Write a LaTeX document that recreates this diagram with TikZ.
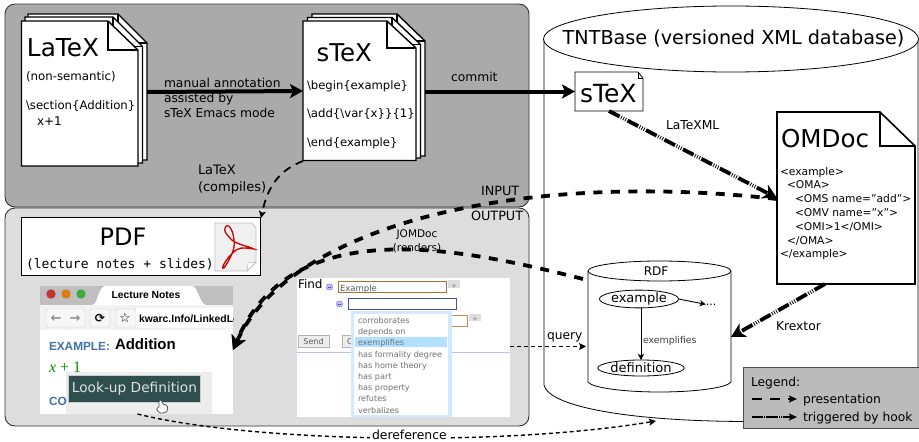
\documentclass[tikz,border=0pt]{standalone}
\usepackage{fontspec}
\setmainfont{DejaVu Sans}
\setmonofont{DejaVu Sans Mono}
\newfontfamily\shotfont{Liberation Sans}
\usetikzlibrary{arrows.meta,fit,shapes.geometric}
\newcommand{\fs}[1]{\fontsize{#1}{#1}\selectfont}
\newcommand{\docshape}[7]{% x0 y0 x1 y1 fx fy style
  \draw[#7,line join=miter] (#1,#2) -- (#5,#2) -- (#3,#6) -- (#3,#4) -- (#1,#4) -- cycle;
  \draw[#7,fill=none] (#5,#2) -- (#5,#6) -- (#3,#6);}
\newcommand{\minusicon}[2]{%
  \draw[draw=blue!35!gray!70,fill=blue!25!white,line width=.5pt,rounded corners=2pt] (#1-3,#2-2.8) rectangle (#1+3,#2+2.8);
  \draw[color=blue!40!gray,line width=.8pt] (#1-1.8,#2) -- (#1+1.8,#2);}
\definecolor{panelA}{HTML}{AAAAAA}
\definecolor{panelB}{HTML}{DDDDDD}
\definecolor{legendbg}{HTML}{BBBBBB}
\definecolor{linkblue}{HTML}{3F73A8}
\definecolor{teal}{HTML}{2F4F4F}
\definecolor{itemgrey}{HTML}{707070}
\tikzset{
  x=1pt,y=-1pt,
  lbl/.style={inner sep=0,outer sep=0,anchor=mid west,yshift=-1.3pt,text=#1},
  lbl/.default=black,
  clbl/.style={inner sep=0,outer sep=0,anchor=mid,yshift=-1.3pt,text=black},
  ttl/.style={inner sep=0,outer sep=0,anchor=base west,text=black},
  box/.style={inner sep=0,outer sep=0},
  panel/.style={draw=black!80,line width=.9pt,rounded corners=10pt},
  page/.style={draw=black,fill=white,line width=1.4pt},
  solidarrow/.style={line width=4pt,-{Stealth[length=13pt,width=14pt,inset=3pt]}},
  bigdash/.style={line width=3.8pt,dash pattern=on 9pt off 8.5pt,-{Stealth[length=14pt,width=15pt,inset=4pt]}},
  hookarrow/.style={line width=3.8pt,dash pattern=on 12pt off 1.6pt on .8pt off 1.6pt on .8pt off 1.6pt on .8pt off 1.6pt,-{Stealth[length=14pt,width=15pt,inset=4pt]}},
  smalldash/.style={line width=1.4pt,dash pattern=on 4pt off 3pt,-{Stealth[length=7pt,width=7pt,inset=1.5pt]}},
  thinarrow/.style={line width=.9pt,-{Stealth[length=6pt,width=6pt,inset=1.5pt]}},
  oval/.style={ellipse,draw=black,fill=white,line width=.8pt,inner sep=0,outer sep=0,minimum width=75pt,minimum height=16pt},
}
\begin{document}
\begin{tikzpicture}
\fill[white] (0,0) rectangle (919,442);
\useasboundingbox (0,0) rectangle (919,442);
% panels
\draw[panel,fill=panelA] (5,4) rectangle (529,207);
\draw[panel,fill=panelB] (5,208) rectangle (529,426);
% TNTBase cylinder
\draw[line width=.8pt,fill=white] (544,39) -- (544,385) .. controls (548,405) and (620,421) .. (745,421.5) -- (918,421.5) -- (918,39);
\draw[line width=.8pt,fill=white] (731,39) ellipse [x radius=187.5,y radius=33];
\node[ttl,anchor=base] (tnt) at (733.5,44) {\fs{19.2}TNTBase (versioned XML database)};
% LaTeX stack
\docshape{28}{14}{147}{160}{118}{43}{page}
\docshape{25}{17}{142.5}{163}{113}{46.5}{page}
\docshape{21.5}{21}{138}{166}{108}{50}{page}
\node[box,fit={(21.5,14)(147,166)}] (latexdoc) {};
\node[ttl] (latextitle) at (27,56.5) {\fs{24.7}LaTeX};
\node[lbl] (latexa) at (26,76) {\fs{11.8}(non-semantic)};
\node[lbl] (latexb) at (26,105) {\fs{11.7}\textbackslash section\{Addition\}};
\node[lbl] (latexc) at (37,121) {\fs{12}x+1};
% sTeX stack
\docshape{312}{14}{425}{156}{397}{41}{page}
\docshape{307.5}{17.5}{420.5}{158}{392}{44.5}{page}
\docshape{303}{21}{416}{160.5}{387}{48}{page}
\node[box,fit={(303,14)(425,161)}] (stexdoc) {};
\node[ttl] (stextitle) at (316.5,61) {\fs{24.5}sTeX};
\node[lbl] (stexa) at (307,85) {\fs{11.6}\textbackslash begin\{example\}};
\node[lbl] (stexb) at (307,113.5) {\fs{11.7}\textbackslash add\{\textbackslash var\{x\}\}\{1\}};
\node[lbl] (stexc) at (307,142) {\fs{11.6}\textbackslash end\{example\}};
% annotation
\node[lbl] (ann1) at (164,83) {\fs{12.3}manual annotation};
\node[lbl] (ann2) at (164,98) {\fs{12.3}assisted by};
\node[lbl] (ann3) at (164,113) {\fs{12.3}sTeX Emacs mode};
\node[lbl] (commit) at (451,77) {\fs{12.3}commit};
\node[lbl] (comp1) at (198,170) {\fs{13}LaTeX};
\node[lbl] (comp2) at (198,187) {\fs{13}(compiles)};
\node[lbl] (inputlbl) at (481,191) {\fs{12.8}INPUT};
\node[lbl] (outputlbl) at (471,216) {\fs{12.8}OUTPUT};
\node[clbl] (jom1) at (417,233) {\fs{10.5}JOMDoc};
\node[clbl] (jom2) at (417,247) {\fs{10.5}(renders)};
% PDF box
\node[box,draw=black,line width=.9pt,fill=white,fit={(21,217)(260,275)}] (pdfbox) {};
\node[ttl,anchor=base] (pdftitle) at (123,245) {\fs{24}PDF};
\node[lbl] (pdfsub) at (26,264) {\fs{13}\ttfamily(lecture notes + slides)};
% PDF icon
\draw[draw=black!25,fill=black!6,line width=.8pt] (215,223) -- (252,223) -- (256,228) -- (256,262) -- (247,271) -- (215,271) -- cycle;
\draw[draw=black!30,fill=white,line width=.5pt] (247,271) -- (248,263) -- (256,262) -- cycle;
\draw[color=red!80!black,line width=1.3pt,fill=none] (225,228) .. controls (227,222) and (233,228) .. (234,240) .. controls (236,250) and (228,262) .. (224,268) .. controls (220,270) and (226,258) .. (236,250) .. controls (242,246) and (250,249) .. (254,249) .. controls (248,246) and (234,244) .. (230,238) .. controls (226,234) and (224,231) .. (225,228);
% Browser screenshot
\begin{scope}
\clip (40,286) rectangle (233,414);
\fill[white] (40,286) rectangle (233,414);
\fill[black!25] (40,286) rectangle (233,305);
\fill[black!5] (40,305) rectangle (233,330);
\fill[white] (92,305) .. controls (98,305) and (98,286) .. (106,286) -- (192,286) .. controls (198,286) and (200,305) .. (206,305) -- cycle;
\fill[red!70!black!80] (51,294) circle (4.7);
\fill[orange!85!black!90] (66,294) circle (4.7);
\fill[green!55!black!75] (81,294) circle (4.7);
\node[clbl] (tabtitle) at (146,294) {\shotfont\fs{10.3}\bfseries Lecture Notes};
\draw[black!20,fill=black!3,rounded corners=2pt] (46,309) rectangle (85,327);
\draw[black!20,fill=black!3,rounded corners=2pt] (90,309) rectangle (110,327);
\draw[black!20,fill=black!3,rounded corners=2pt] (116,309) rectangle (136,327);
\fill[white] (136,308) rectangle (233,328);
\node[clbl,text=black!45] (backbtn) at (56,318) {\fs{13}\bfseries ←};
\node[clbl,text=black!45] (fwdbtn) at (75,318) {\fs{13}\bfseries →};
\node[clbl] (reload) at (100,318) {\fs{12}\bfseries ⟳};
\node[clbl] (star) at (125,318) {\fs{13}☆};
\node[lbl] (url) at (139,318) {\shotfont\fs{10.4}\bfseries kwarc.Info/LinkedLoc};
\node[lbl=linkblue] (exlabel) at (49,346) {\shotfont\fs{11.8}\bfseries EXAMPLE:};
\node[lbl] (extitle) at (115,345) {\shotfont\fs{15}\bfseries Addition};
\node[lbl=green!55!black] (xplus) at (49,368) {\fontspec{Liberation Serif}\fs{16}\textit{x} + 1};
\fill[black!7] (66,372) rectangle (212,414);
\node[lbl=linkblue] (colabel) at (49,401) {\shotfont\fs{11.8}\bfseries CO};
\node[box,draw=black!20,fill=teal,fit={(68,375)(200,402)}] (lookup) {};
\node[clbl,text=black!12] (lookuptxt) at (134.5,388.5) {\fs{13.7}Look-up Definition};
\draw[black!70,fill=white,line width=.7pt,rounded corners=1.5pt] (159,400) -- (162,400) -- (162,404) -- (167,405) -- (168,410) -- (165,413) -- (159,413) -- (156,408) -- (159,408) -- cycle;
\end{scope}
\node[box,fit={(40,286)(233,414)}] (browser) {};
% Find screenshot
\fill[white] (297,278) rectangle (510,417);
\node[box,fit={(297,278)(510,417)}] (findshot) {};
\node[lbl] (findlbl) at (298,284) {\fs{12}Find};
\minusicon{329.5}{287}
\minusicon{339.5}{304}
\draw[color=orange!60!black!80,fill=white,line width=1pt] (338,281.5) rectangle (446,292);
\node[lbl=black!65] (exinput) at (340,287) {\fs{8.5}Example};
\fill[black!13] (448,280) rectangle (460,288);
\node[clbl,text=black!50] (plus1) at (454,284) {\fs{7}+};
\fill[black!13] (469,314) rectangle (481,321);
\node[clbl,text=black!50] (plus2) at (475,317.5) {\fs{7}+};
\draw[color=orange!70!black!70,line width=1pt] (450,315) -- (467,315) -- (467,326) -- (450,326);
\draw[color=blue!40!gray,fill=white,line width=1pt] (348,298) rectangle (456,309);
\draw[draw=black!30,fill=black!7,line width=.6pt] (298,335) rectangle (329,347);
\node[clbl,text=black!65] (sendbtn) at (313.5,340.5) {\fs{8}Send};
\draw[draw=black!30,fill=black!7,line width=.6pt] (342,335) rectangle (360,347);
\node[lbl=black!65] (cbtn) at (347,340.5) {\fs{8}C};
\draw[color=blue!25,line width=.9pt] (297,352.5) -- (510,352.5);
\fill[blue!45!cyan!18] (351,311) rectangle (452,417);
\fill[white] (354,314) rectangle (448,415);
\fill[blue!40!cyan!30] (355,337) rectangle (447,347);
\node[lbl=itemgrey] (i1) at (358,319) {\fs{8.1}corroborates};
\node[lbl=itemgrey] (i2) at (358,330) {\fs{8.1}depends on};
\node[lbl=itemgrey] (i3) at (358,341.5) {\fs{8.1}exemplifies};
\node[lbl=itemgrey] (i4) at (358,353) {\fs{8.1}has formality degree};
\node[lbl=itemgrey] (i5) at (358,364) {\fs{8.1}has home theory};
\node[lbl=itemgrey] (i6) at (358,375) {\fs{8.1}has part};
\node[lbl=itemgrey] (i7) at (358,386) {\fs{8.1}has property};
\node[lbl=itemgrey] (i8) at (358,397.5) {\fs{8.1}refutes};
\node[lbl=itemgrey] (i9) at (358,409) {\fs{8.1}verbalizes};
% sTeX small
\docshape{575}{72}{643}{111}{638}{78}{draw=black,fill=white,line width=.8pt}
\node[box,fit={(575,72)(643,111)}] (stexsmall) {};
\node[ttl] (stexsmalltxt) at (580,102) {\fs{25}sTeX};
\node[lbl] (latexml) at (666,125) {\fs{12.3}LaTeXML};
% OMDoc
\docshape{777}{112}{915}{284}{880}{146}{draw=black,fill=white,line width=1.6pt}
\node[box,fit={(777,112)(915,284)}] (omdoc) {};
\node[ttl] (omdoctitle) at (781,147) {\fs{24.6}OMDoc};
\node[lbl] (x1) at (780,171) {\fs{10.7}<example>};
\node[lbl] (x2) at (787,184.5) {\fs{10.7}<OMA>};
\node[lbl] (x3) at (795,198.5) {\fs{10.7}<OMS name="add">};
\node[lbl] (x4) at (795,212) {\fs{10.7}<OMV name="x">};
\node[lbl] (x5) at (795,226) {\fs{10.7}<OMI>1</OMI>};
\node[lbl] (x6) at (787,240) {\fs{10.7}</OMA>};
\node[lbl] (x7) at (780,253) {\fs{10.7}</example>};
% RDF cylinder
\draw[line width=.8pt,fill=white] (588,271) -- (588,382) .. controls (592,388) and (625,392) .. (659.5,392) .. controls (694,392) and (727,388) .. (731,382) -- (731,271);
\draw[line width=.8pt,fill=white] (659.5,271) ellipse [x radius=71.5,y radius=10];
\node[box,fit={(588,261)(731,392)}] (rdf) {};
\node[clbl] (rdflabel) at (656,271) {\fs{12}RDF};
\node[oval] (exnode) at (639,299) {\fs{13}example};
\node[oval] (defnode) at (641,368) {\fs{13}definition};
\node[clbl] (dots) at (711,301) {\fs{11}...};
\node[lbl=black!75] (exfies) at (643,339) {\fs{9.4}exemplifies};
\node[lbl] (krextor) at (776,326) {\fs{12.3}Krextor};
\node[lbl] (querylbl) at (547,335) {\fs{12.3}query};
\draw[thinarrow] (exnode.east) -- (dots.west);
\draw[thinarrow] (exnode.south -| defnode.north) -- (defnode.north);
% dereference
\draw[smalldash] ([xshift=1pt]browser.south) .. controls (250,442) and (500,447) .. (656,421);
\node[lbl,fill=white,inner xsep=2pt] (deref) at (370,435) {\fs{12.4}dereference};
% connectors
\draw[solidarrow] ([yshift=-2pt]latexdoc.east) -- ([yshift=-3.5pt]stexdoc.west);
\draw[solidarrow] ([yshift=-4pt]stexdoc.east) -- (stexsmall.west);
\draw[line width=1.8pt,dash pattern=on 8pt off 6pt,-{Stealth[length=7pt,width=7pt,inset=1.5pt]}] (stexdoc.south west) .. controls (280,170) and (268,185) .. (261,218);
\draw[hookarrow] (stexsmall.south) -- (omdoc.west |- 0,198);
\draw[hookarrow] (825,284) -- (731,337);
\draw[bigdash] (777,199) .. controls (520,170) and (290,225) .. (233,350);
\draw[bigdash] (583,279) .. controls (450,245) and (290,215) .. (233,350);
\draw[smalldash] (findshot.east |- 0,346.5) -- (586,346.5);
% legend
\node[box,draw=black!70,line width=.9pt,fill=legendbg,fit={(743,367)(919,428)}] (legend) {};
\node[lbl] (leg0) at (751,382) {\fs{12.3}Legend:};
\node[lbl] (leg1) at (803,399) {\fs{12.3}presentation};
\node[lbl] (leg2) at (803,417) {\fs{12.3}triggered by hook};
\coordinate (la) at (752,399);
\coordinate (lb) at (797,399);
\coordinate (lc) at (752,417);
\coordinate (ld) at (797,417);
\draw[line width=1.8pt,dash pattern=on 10pt off 8pt,-{Stealth[length=8pt,width=7pt,inset=1.5pt]}] (la) -- (lb);
\draw[line width=1.8pt,dash pattern=on 11pt off 1pt on .7pt off 1pt on .7pt off 1pt,-{Stealth[length=8pt,width=7pt,inset=1.5pt]}] (lc) -- (ld);
\end{tikzpicture}
\end{document}
